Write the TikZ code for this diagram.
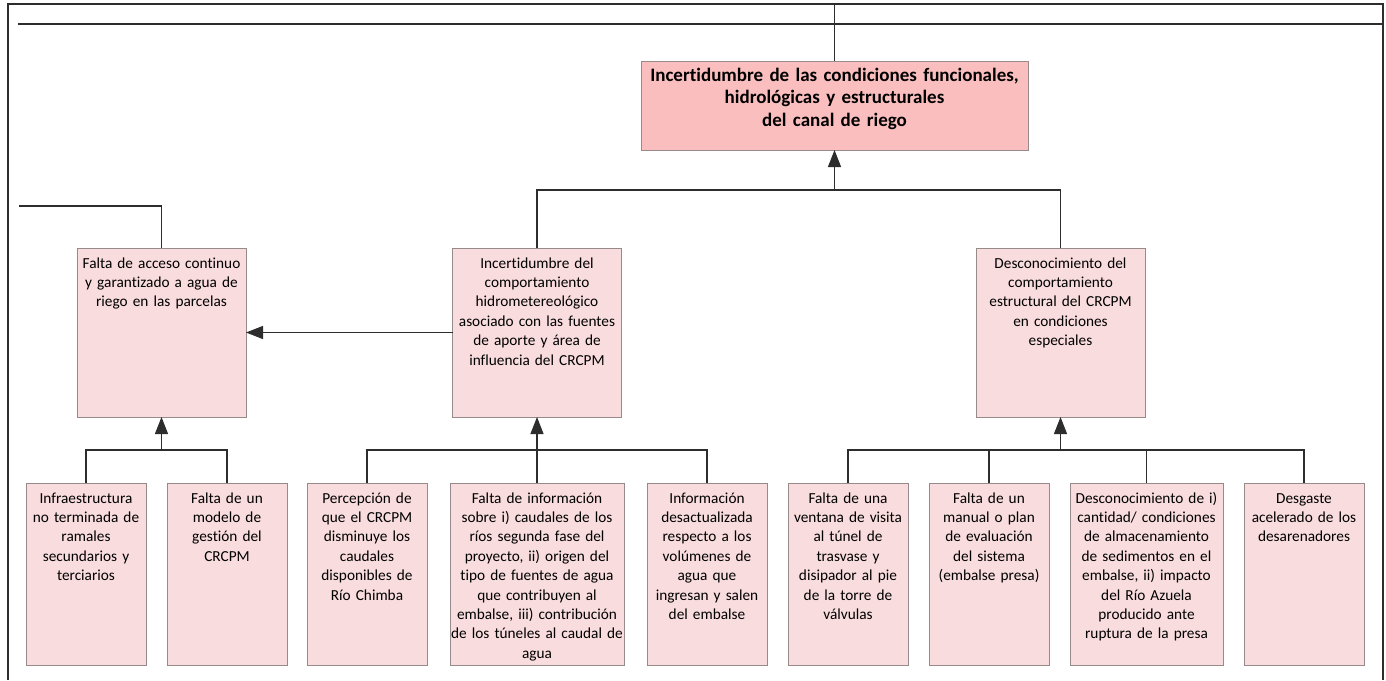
\documentclass[tikz,border=0pt]{standalone}
\usepackage{fontspec}
\setmainfont{Carlito}[Ligatures=NoCommon]
\usetikzlibrary{arrows.meta,positioning}

\definecolor{cajafondo}{RGB}{249,220,221}
\definecolor{cajatop}{RGB}{251,190,190}
\definecolor{cajaborde}{RGB}{150,138,138}
\definecolor{linea}{RGB}{45,45,45}

\begin{document}
\begin{tikzpicture}[x=1pt,y=-1pt]
\tikzset{caja/.style={draw=cajaborde,fill=cajafondo,line width=0.9pt,
inner xsep=0pt,inner ysep=0pt,outer sep=0pt,align=center,text height=20pt,
font=\fontsize{15.3pt}{19.4pt}\selectfont},
causa/.style={caja,text depth=149pt,text width=169pt,anchor=north},
hoja/.style={caja,text depth=162pt,text width=120pt},
conector/.style={draw=linea,line width=1.2pt},
flecha/.style={conector,-{Triangle[width=13pt,length=17pt]}},
marco/.style={draw=linea,line width=1.4pt}}
\useasboundingbox (0,0) rectangle (1386,680);

% marco
\draw[marco] (8,680) -- (8,4) -- (1383,4) -- (1383,680);
\draw[marco] (18,24) -- (1383,24);

\node[caja,fill=cajatop,anchor=north,text width=387pt,text depth=69pt,
font=\bfseries\fontsize{19pt}{22.8pt}\selectfont] (problema) at (834.5,61)
{Incertidumbre de las condiciones funcionales,\\ hidrológicas y estructurales\\ del canal de riego};

\node[causa] (acceso) at (161.5,248) {Falta de acceso continuo\\ y garantizado a agua de\\ riego en las parcelas};
\node[causa] (hidro) at (537,248) {Incertidumbre del\\ comportamiento\\ hidrometereológico\\ asociado con las fuentes\\ de aporte y área de\\ influencia del CRCPM};
\node[causa] (estructural) at (1060.5,248) {Desconocimiento del\\ comportamiento\\ estructural del CRCPM\\ en condiciones\\ especiales};

\node[hoja,anchor=north west] (infra) at (26,483) {Infraestructura\\ no terminada de\\ ramales\\ secundarios y\\ terciarios};
\node[hoja,right=21pt of infra] (gestion) {Falta de un\\ modelo de\\ gestión del\\ CRCPM};
\node[hoja,right=20pt of gestion] (percepcion) {Percepción de\\ que el CRCPM\\ disminuye los\\ caudales\\ disponibles de\\ Río Chimba};
\node[hoja,text width=174pt,right=23pt of percepcion] (info) {Falta de información\\ sobre i) caudales de los\\ ríos segunda fase del\\ proyecto, ii) origen del\\ tipo de fuentes de agua\\ que contribuyen al\\ embalse, iii) contribución\\ de los túneles al caudal de\\ agua};
\node[hoja,right=23pt of info] (volumenes) {Información\\ desactualizada\\ respecto a los\\ volúmenes de\\ agua que\\ ingresan y salen\\ del embalse};
\node[hoja,right=21pt of volumenes] (ventana) {Falta de una\\ ventana de visita\\ al túnel de\\ trasvase y\\ disipador al pie\\ de la torre de\\ válvulas};
\node[hoja,right=21pt of ventana] (manual) {Falta de un\\ manual o plan\\ de evaluación\\ del sistema\\ (embalse presa)};
\node[hoja,text width=153pt,right=21pt of manual] (sedimentos) {Desconocimiento de i)\\ cantidad/ condiciones\\ de almacenamiento\\ de sedimentos en el\\ embalse, ii) impacto\\ del Río Azuela\\ producido ante\\ ruptura de la presa};
\node[hoja,right=21pt of sedimentos] (desgaste) {Desgaste\\ acelerado de los\\ desarenadores};

% puntos de union
\coordinate (arriba) at (834.5,4);
\coordinate (afuera) at (19,206);
\coordinate (jprob) at (834.5,190);
\coordinate (jacc) at (161.5,450);
\coordinate (jhid) at (537,450);
\coordinate (jest) at (1060.5,450);

\draw[conector] (arriba) -- (problema.north);
\draw[conector] (afuera) -| (acceso.north);
\draw[flecha] (hidro.north) |- (jprob) -- (problema.south);
\draw[conector] (estructural.north) |- (jprob);
\draw[flecha] (hidro.west) -- (acceso.east);

\draw[flecha] (infra.north) |- (jacc) -- (acceso.south);
\draw[conector] (gestion.north) |- (jacc);
\draw[flecha] (info.north) |- (jhid) -- (hidro.south);
\draw[conector] (percepcion.north) |- (jhid);
\draw[conector] (volumenes.north) |- (jhid);
\draw[flecha] (manual.north) |- (jest) -- (estructural.south);
\draw[conector] (ventana.north) |- (jest);
\draw[conector] (sedimentos.north) |- (jest);
\draw[conector] (desgaste.north) |- (jest);
\end{tikzpicture}
\end{document}
